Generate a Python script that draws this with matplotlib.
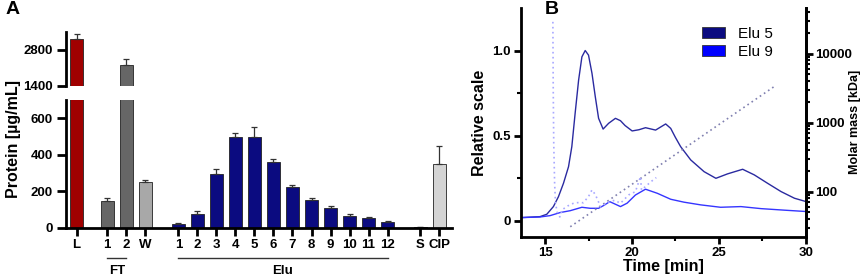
import numpy as np
import matplotlib.pyplot as plt
from matplotlib.transforms import blended_transform_factory
from matplotlib.patches import Patch

plt.rcParams['font.family'] = ['Liberation Sans', 'DejaVu Sans']
plt.rcParams['font.weight'] = 'bold'

# ---- panel A data ----
labels = ['L', '1', '2', 'W', '1', '2', '3', '4', '5', '6', '7', '8', '9',
          '10', '11', '12', 'S', 'CIP']
protein = [3220, 145, 2210, 250, 22, 75, 295, 495, 495, 360, 222, 155, 110,
           66, 57, 35, 3, 350]
protein_err = [170, 20, 220, 10, 4, 15, 25, 25, 55, 15, 10, 8, 8,
               12, 3, 3, 2, 100]
bar_colors = ['#a00000', '#666666', '#666666', '#a8a8a8'] + ['#0b0b80'] * 12 \
    + ['#0b0b80', '#d4d4d4']

# ---- panel B data ----
elu5_t = [13.55, 14.71, 15.1, 15.48, 15.77, 16.06, 16.35, 16.54, 16.73,
          16.93, 17.12, 17.31, 17.5, 17.7, 17.89, 18.08, 18.34, 18.66, 19.05,
          19.34, 19.6, 20.01, 20.4, 20.78, 21.36, 21.94, 22.23, 22.5, 22.8,
          23.38, 24.15, 24.83, 25.5, 26.37, 27.04, 27.8, 28.58, 29.35, 30.03]
elu5_y = [0.019, 0.025, 0.039, 0.084, 0.142, 0.221, 0.318, 0.436, 0.631,
          0.826, 0.963, 1.0, 0.973, 0.866, 0.729, 0.602, 0.539, 0.573, 0.602,
          0.588, 0.56, 0.528, 0.535, 0.547, 0.533, 0.569, 0.543, 0.49, 0.436,
          0.358, 0.289, 0.25, 0.276, 0.303, 0.27, 0.221, 0.172, 0.133, 0.113]
elu9_t = [13.55, 14.71, 15.29, 15.87, 16.45, 17.12, 17.6, 18.08, 18.4, 18.72,
          19.0, 19.34, 19.72, 20.2, 20.78, 21.46, 22.23, 22.99, 23.96, 25.1,
          26.27, 27.43, 28.77, 30.03]
elu9_y = [0.019, 0.023, 0.031, 0.049, 0.06, 0.08, 0.074, 0.074, 0.092, 0.113,
          0.1, 0.084, 0.104, 0.152, 0.186, 0.162, 0.127, 0.11, 0.094, 0.08,
          0.084, 0.072, 0.063, 0.055]
mm5_t = [16.45, 28.3]
mm5_kda = [31, 3500]
mm9_t = [15.45, 15.47, 15.5, 15.55, 15.6, 15.7, 15.85, 16.0, 16.3, 16.64,
         17.0, 17.2, 17.5, 17.7, 17.9, 18.2, 18.6, 19.0, 19.34, 19.82, 20.2,
         20.49, 20.55, 20.8, 21.1, 21.4]
mm9_kda = [29000, 3000, 500, 132, 68, 50, 43, 55, 62, 68, 70, 69, 85, 106,
           90, 60, 70, 75, 68, 90, 100, 165, 106, 120, 140, 160]

pos = np.array([0, 1.61, 2.61, 3.61] + [5.35 + i for i in range(12)]
               + [18.07, 19.08])

fig = plt.figure(figsize=(8.65, 2.79), dpi=100)

ax_lo = fig.add_axes([0.0763, 0.183, 0.4465, 0.459])
ax_hi = fig.add_axes([0.0763, 0.693, 0.4465, 0.194])

err = [np.zeros(len(protein)), protein_err]
for ax in (ax_lo, ax_hi):
    ax.bar(pos, protein, width=0.66, color=bar_colors, edgecolor='#222222',
           linewidth=0.6, yerr=err, capsize=2.5,
           error_kw=dict(ecolor='#333333', elinewidth=0.9, capthick=0.9))
    ax.set_xlim(-0.56, 19.75)
    for s in ('top', 'right'):
        ax.spines[s].set_visible(False)
    ax.spines['left'].set_linewidth(2)
    ax.spines['bottom'].set_linewidth(2)
    ax.tick_params(axis='y', width=2, length=6.5, labelsize=9.5, pad=3)

ax_lo.set_ylim(0, 700)
ax_lo.set_yticks([0, 200, 400, 600])
ax_lo.set_xticks(pos)
ax_lo.set_xticklabels(labels)
ax_lo.tick_params(axis='x', width=2, length=6, labelsize=9.5, pad=2)

ax_hi.set_ylim(1400, 3500)
ax_hi.set_yticks([1400, 2800])
ax_hi.spines['bottom'].set_visible(False)
ax_hi.set_xticks([])

fig.text(0.016, 0.5, 'Protein [µg/mL]', rotation=90, va='center',
         ha='center', fontsize=11.5, fontweight='bold')

tr = blended_transform_factory(ax_lo.transData, fig.transFigure)
ax_lo.plot([pos[1], pos[2]], [0.074, 0.074], color='#333333', lw=1,
           transform=tr, clip_on=False)
ax_lo.text((pos[1] + pos[2]) / 2, 0.027, 'FT', transform=tr, ha='center',
           va='center', fontsize=9.5)
ax_lo.plot([pos[4], pos[15]], [0.074, 0.074], color='#333333', lw=1,
           transform=tr, clip_on=False)
ax_lo.text((pos[4] + pos[15]) / 2, 0.027, 'Elu', transform=tr, ha='center',
           va='center', fontsize=9.5)

fig.text(0.006, 0.965, 'A', fontsize=14, fontweight='bold', va='center')
fig.text(0.63, 0.965, 'B', fontsize=14, fontweight='bold', va='center')

# ---- panel B ----
axb = fig.add_axes([0.602, 0.149, 0.3295, 0.822])
axb.plot(elu5_t, elu5_y, color='#2a2aa0', lw=1)
axb.plot(elu9_t, elu9_y, color='#3535ff', lw=1)
axb.set_xlim(13.6, 30)
axb.set_ylim(-0.097, 1.249)
axb.set_xticks([15, 20, 25, 30])
axb.set_xticks([17.5, 22.5, 27.5], minor=True)
axb.set_yticks([0, 0.5, 1.0])
axb.set_yticklabels(['0', '0.5', '1.0'])
axb.set_yticks([0.25, 0.75], minor=True)
axb.spines['top'].set_visible(False)
for s in ('left', 'bottom', 'right'):
    axb.spines[s].set_linewidth(2)
axb.tick_params(which='major', width=2, length=5, labelsize=9.5, pad=2)
axb.tick_params(which='minor', width=1.5, length=3)
axb.set_xlabel('Time [min]', fontsize=11.5, fontweight='bold', labelpad=0)
axb.set_ylabel('Relative scale', fontsize=11.5, fontweight='bold',
               labelpad=4)

axm = axb.twinx()
axm.set_yscale('log')
axm.plot(mm5_t, mm5_kda, color='#8080b0', lw=1.2, ls=(0, (1, 2)))
axm.plot(mm9_t, mm9_kda, color='#a8a8ff', lw=1.2, ls=(0, (1, 2)))
axm.set_ylim(21.7, 45900)
axm.set_yticks([100, 1000, 10000])
axm.set_yticklabels(['100', '1000', '10000'])
axm.spines['top'].set_visible(False)
axm.spines['right'].set_linewidth(2)
axm.tick_params(which='major', width=2, length=5, labelsize=9.5, pad=1.5)
axm.tick_params(which='minor', width=1.5, length=3)
fig.text(0.989, 0.563, 'Molar mass [kDa]', rotation=90, va='center',
         ha='center', fontsize=9, fontweight='bold')

handles = [Patch(facecolor='#0b0b80', edgecolor='#333333', lw=0.6),
           Patch(facecolor='#0000ff', edgecolor='#333333', lw=0.6)]
axb.legend(handles, ['Elu 5', 'Elu 9'], loc='upper left',
           bbox_to_anchor=(0.6, 0.965), frameon=False, handlelength=1.45,
           handleheight=0.72, handletextpad=0.9, labelspacing=0.28,
           borderpad=0.2, prop=dict(size=11, weight='normal'))

fig.savefig('out.png', dpi=100)
